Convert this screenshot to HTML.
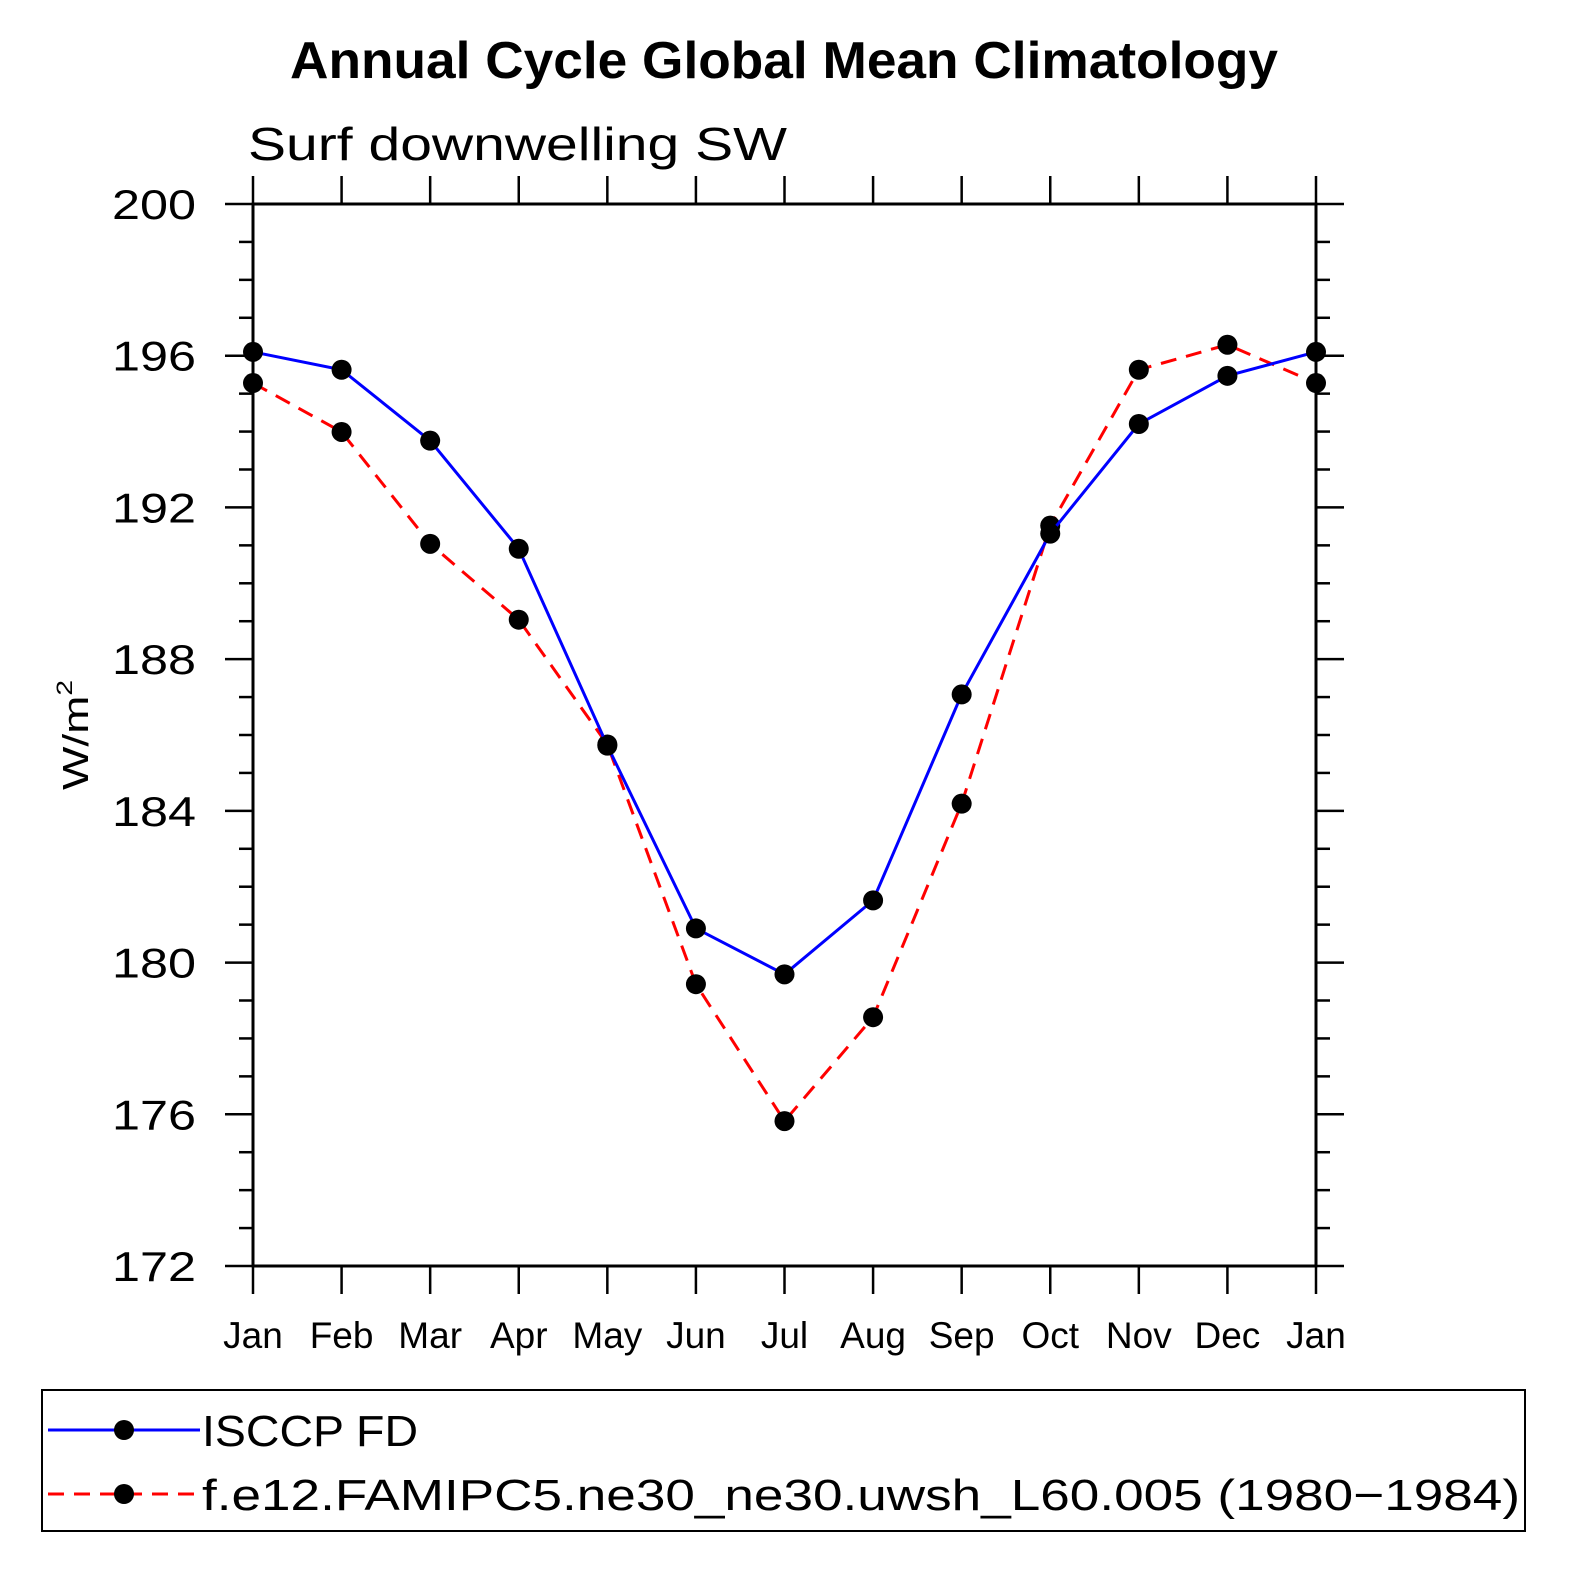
<!DOCTYPE html>
<html><head><meta charset="utf-8"><style>
html,body{margin:0;padding:0;background:#fff;}
svg{display:block;font-family:"Liberation Sans","DejaVu Sans",sans-serif;}
</style></head><body>
<svg id="chart" width="1586" height="1586" viewBox="0 0 1586 1586">
<text x="784" y="78" text-anchor="middle" font-size="52" font-weight="bold" textLength="988" lengthAdjust="spacingAndGlyphs">Annual Cycle Global Mean Climatology</text>
<text x="248" y="160" font-size="46" textLength="539" lengthAdjust="spacingAndGlyphs">Surf downwelling SW</text>
<text transform="translate(88,735) rotate(-90)" text-anchor="middle" font-size="36" textLength="110" lengthAdjust="spacingAndGlyphs">W/m<tspan dy="-16" font-size="22">2</tspan></text>
<g id="axes"></g>
<g id="series"></g>
<rect x="42" y="1390" width="1483" height="141" fill="none" stroke="#000" stroke-width="2"/>
<g>
<line x1="48" y1="1430" x2="200" y2="1430" stroke="#0000ff" stroke-width="3"/>
<circle cx="124" cy="1430" r="10" fill="#000"/>
<text x="202" y="1446" font-size="44" textLength="216" lengthAdjust="spacingAndGlyphs">ISCCP FD</text>
</g>
<g>
<line x1="48" y1="1494" x2="200" y2="1494" stroke="#ff0000" stroke-width="3" stroke-dasharray="16,10"/>
<circle cx="124" cy="1494" r="10" fill="#000"/>
<text x="202" y="1510" font-size="44" textLength="1318" lengthAdjust="spacingAndGlyphs">f.e12.FAMIPC5.ne30_ne30.uwsh_L60.005 (1980−1984)</text>
</g>
</svg>
<script>
const months=["Jan","Feb","Mar","Apr","May","Jun","Jul","Aug","Sep","Oct","Nov","Dec","Jan"];
const yTicks=[172,176,180,184,188,192,196,200];
const isccp=[196.1,195.63,193.76,190.91,185.72,180.9,179.69,181.64,187.07,191.31,194.2,195.47,196.1];
const model=[195.28,193.99,191.04,189.04,185.75,179.43,175.82,178.56,184.19,191.52,195.63,196.29,195.28];
const NS="http://www.w3.org/2000/svg";
const L=253,R=1316,T=204,B=1266,ymin=172,ymax=200;
const xs=i=>L+(R-L)*i/(months.length-1);
const ys=v=>B-(v-ymin)/(ymax-ymin)*(B-T);
function mk(t,a,p){const e=document.createElementNS(NS,t);for(const k in a)e.setAttribute(k,a[k]);p.appendChild(e);return e;}
const ax=document.getElementById('axes');
const frame=mk('rect',{x:L,y:T,width:R-L,height:B-T,fill:'none',stroke:'#000','stroke-width':3},ax);


for(let v=ymin;v<=ymax;v++){const maj=(v-ymin)%4===0;const len=maj?28:14;const y=ys(v);
mk('line',{x1:L-len,y1:y,x2:L,y2:y,stroke:'#000','stroke-width':2.5},ax);
mk('line',{x1:R,y1:y,x2:R+len,y2:y,stroke:'#000','stroke-width':2.5},ax);}
yTicks.forEach(v=>{const t=mk('text',{x:196,y:ys(v)+15,'text-anchor':'end','font-size':42,textLength:84,lengthAdjust:'spacingAndGlyphs'},ax);t.textContent=v;

});
months.forEach((m,i)=>{const x=xs(i);
mk('line',{x1:x,y1:B,x2:x,y2:B+28,stroke:'#000','stroke-width':2.5},ax);
mk('line',{x1:x,y1:T,x2:x,y2:T-28,stroke:'#000','stroke-width':2.5},ax);
const t=mk('text',{x:x,y:1348,'text-anchor':'middle','font-size':37},ax);t.textContent=m;

});
const sg=document.getElementById('series');
function draw(vals,color,dash,name){const g=mk('g',{},sg);


const pl=mk('polyline',{points:vals.map((v,i)=>xs(i)+','+ys(v)).join(' '),fill:'none',stroke:color,'stroke-width':3},g);
if(dash)pl.setAttribute('stroke-dasharray',dash);
vals.forEach((v,i)=>{const c=mk('circle',{cx:xs(i),cy:ys(v),r:10,fill:'#000'},g);

});}
draw(model,'#ff0000','16,10','model-series');
draw(isccp,'#0000ff',null,'isccp-series');
</script>
</body></html>
